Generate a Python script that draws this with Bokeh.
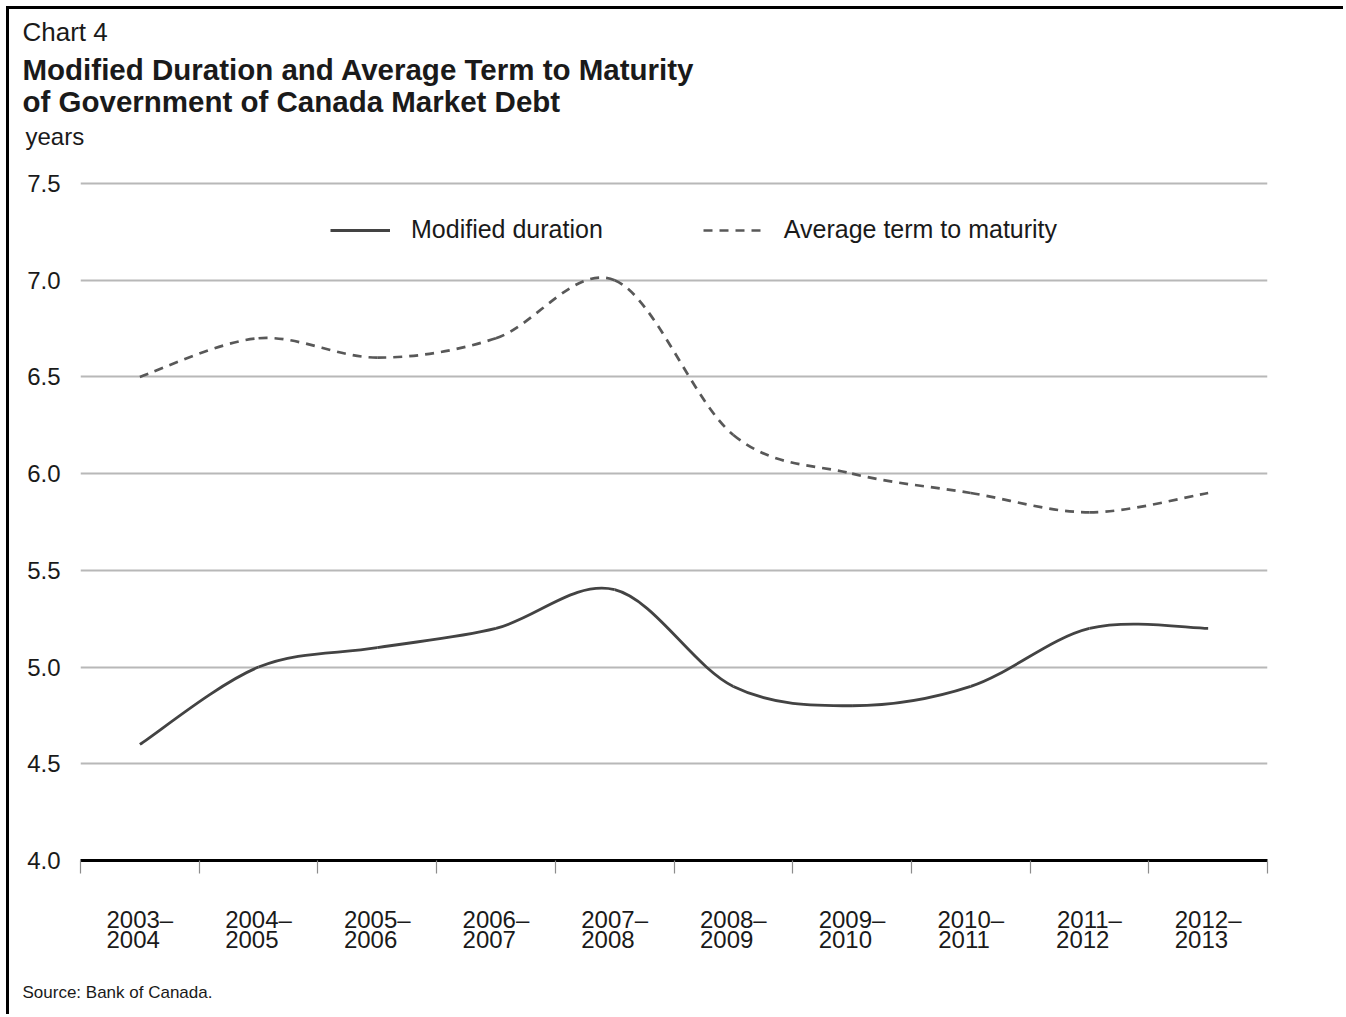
import numpy as np
from bokeh.plotting import figure
from bokeh.models import Range1d, FixedTicker, Title, Legend, LegendItem, ColumnDataSource
from bokeh.embed import file_html
from bokeh.resources import INLINE

# Fiscal years (April–March)
fiscal_years = ["2003–2004", "2004–2005", "2005–2006", "2006–2007", "2007–2008",
                "2008–2009", "2009–2010", "2010–2011", "2011–2012", "2012–2013"]

# Years
modified_duration = [4.6, 5.0, 5.1, 5.2, 5.4, 4.9, 4.8, 4.9, 5.2, 5.2]
average_term_to_maturity = [6.5, 6.7, 6.6, 6.7, 7.0, 6.2, 6.0, 5.9, 5.8, 5.9]

y_ticks = [4.0, 4.5, 5.0, 5.5, 6.0, 6.5, 7.0, 7.5]

TEXT = "#1a1a1a"
FONT = "Liberation Sans"

n = len(fiscal_years)
x_centres = np.arange(n) + 0.5
# two-line tick labels; the figure space keeps both lines flush left
tick_text = [fy.replace("–", "–\n") + "\u2007" for fy in fiscal_years]


def smooth_segments(xs, ys):
    """Cubic Bezier segments (Catmull-Rom tangents) through every point."""
    xs = np.asarray(xs, float)
    ys = np.asarray(ys, float)
    xp = np.concatenate([[xs[0]], xs, [xs[-1]]])
    yp = np.concatenate([[ys[0]], ys, [ys[-1]]])
    seg = dict(x0=[], y0=[], x1=[], y1=[], cx0=[], cy0=[], cx1=[], cy1=[])
    for i in range(len(xs) - 1):
        j = i + 1
        seg["x0"].append(xp[j]); seg["y0"].append(yp[j])
        seg["x1"].append(xp[j + 1]); seg["y1"].append(yp[j + 1])
        seg["cx0"].append(xp[j] + (xp[j + 1] - xp[j - 1]) / 6)
        seg["cy0"].append(yp[j] + (yp[j + 1] - yp[j - 1]) / 6)
        seg["cx1"].append(xp[j + 1] - (xp[j + 2] - xp[j]) / 6)
        seg["cy1"].append(yp[j + 1] - (yp[j + 2] - yp[j]) / 6)
    return ColumnDataSource(seg)


# plot area: 7.5 gridline 677 px above the 4.0 axis, some headroom above it
px_per_year = 677 / 3.5
headroom = 32
p = figure(width=1337, height=1008, output_backend="svg", toolbar_location=None,
           x_range=Range1d(0, n), y_range=Range1d(4.0, 7.5 + headroom / px_per_year),
           min_border_left=71, min_border_right=79, min_border_top=142, min_border_bottom=157,
           margin=(6, 0, 0, 6),
           styles={"border-left": "3px solid black", "border-top": "3px solid black"})
p.outline_line_color = None
p.background_fill_color = "white"
p.border_fill_color = "white"

# grid
p.xgrid.grid_line_color = None
p.ygrid.ticker = FixedTicker(ticks=y_ticks)
p.ygrid.grid_line_color = "#b8b8b8"
p.ygrid.grid_line_width = 1.8

# y axis: labels only
p.yaxis.ticker = FixedTicker(ticks=y_ticks)
p.yaxis.major_label_overrides = {t: f"{t:.1f}" for t in y_ticks}
p.yaxis.axis_line_color = None
p.yaxis.major_tick_line_color = None
p.yaxis.minor_tick_line_color = None
p.yaxis.major_tick_out = 0
p.yaxis.major_label_standoff = 20
p.yaxis.major_label_text_font = FONT
p.yaxis.major_label_text_font_size = "24px"
p.yaxis.major_label_text_color = TEXT

# x axis: labels centred on each year, ticks on the boundaries
p.xaxis.ticker = FixedTicker(ticks=list(x_centres), minor_ticks=list(range(n + 1)))
p.xaxis.major_label_overrides = {float(x): lab for x, lab in zip(x_centres, tick_text)}
p.xaxis.axis_line_color = "black"
p.xaxis.axis_line_width = 3
p.xaxis.major_tick_line_color = None
p.xaxis.major_tick_out = 0
p.xaxis.major_tick_in = 0
p.xaxis.minor_tick_line_color = "#8c8c8c"
p.xaxis.minor_tick_line_width = 1.2
p.xaxis.minor_tick_out = 13
p.xaxis.minor_tick_in = 0
p.xaxis.major_label_standoff = 32
p.xaxis.major_label_text_font = FONT
p.xaxis.major_label_text_font_size = "24px"
p.xaxis.major_label_text_color = TEXT
p.xaxis.major_label_text_line_height = 0.75

r_dur = p.bezier("x0", "y0", "x1", "y1", "cx0", "cy0", "cx1", "cy1",
                 source=smooth_segments(x_centres, modified_duration),
                 line_color="#434343", line_width=2.8)
r_atm = p.bezier("x0", "y0", "x1", "y1", "cx0", "cy0", "cx1", "cy1",
                 source=smooth_segments(x_centres, average_term_to_maturity),
                 line_color="#585858", line_width=2.7, line_dash="9 7")

legend = Legend(items=[LegendItem(label="Modified duration", renderers=[r_dur]),
                       LegendItem(label="Average term to maturity", renderers=[r_atm])],
                orientation="horizontal", location=(250, 616),
                padding=0, margin=0, spacing=100, label_standoff=21,
                glyph_width=60, glyph_height=20, label_height=25,
                border_line_color=None, background_fill_alpha=0,
                label_text_font=FONT, label_text_font_size="25px", label_text_color=TEXT)
p.add_layout(legend, "center")


# headings (stacked upward from the plot) and the source note
def heading(text, size, standoff, offset, side="above", style="normal", line_height=1.0):
    p.add_layout(Title(text=text, align="left", offset=offset, standoff=standoff,
                       text_font=FONT, text_font_size=size, text_font_style=style,
                       text_color=TEXT, text_line_height=line_height), side)


heading("years", "24px", 4, -55)
heading("Modified Duration and Average Term to Maturity\nof Government of Canada Market Debt",
        "29.5px", 0, -58, style="bold", line_height=0.98)
heading("Chart 4", "26px", 10, -58)
# the blank first line leaves room between the axis labels and the note
heading("\nSource: Bank of Canada.", "17px", 4, -58, side="below", line_height=1.27)

open("out.html", "w").write(file_html(p, INLINE))
